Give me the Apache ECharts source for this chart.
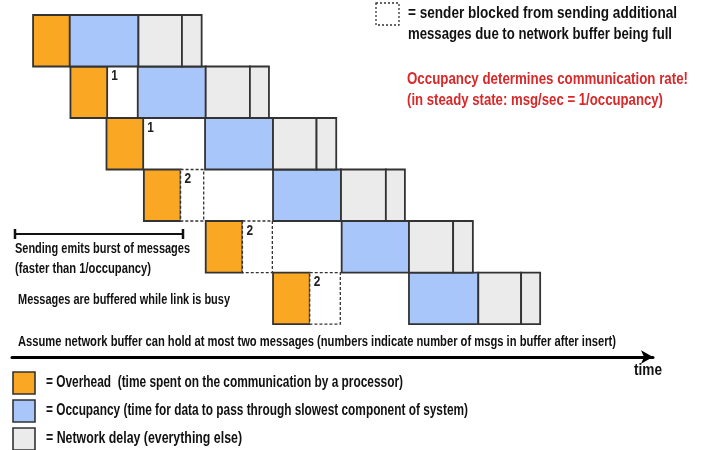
<!DOCTYPE html>
<html>
<head>
<meta charset="utf-8">
<script src="https://cdn.jsdelivr.net/npm/echarts@6/dist/echarts.min.js"></script>
<style>
  html, body { margin: 0; padding: 0; background: #fff; }
  #chart { width: 705px; height: 450px; }
</style>
</head>
<body>
<div id="chart"></div>
<script>
'use strict';

// one row per message, times in arbitrary units (occupancy ~ 10)
var messages = ['msg 1', 'msg 2', 'msg 3', 'msg 4', 'msg 5', 'msg 6'];
var sendStart = [3.1, 8.6, 13.9, 19.4, 28.5, 38.4];
var sendEnd = [8.5, 14.0, 19.3, 24.8, 33.9, 43.8];
var blockedEnd = [null, null, null, 28.2, 38.3, 48.3];
var bufferCount = [null, 1, 1, 2, 2, 2];
var occStart = [8.5, 18.5, 28.4, 38.4, 48.5, 58.4];
var occEnd = [18.6, 28.5, 38.4, 48.4, 58.4, 68.6];
var delaySplit = [25.0, 35.0, 44.8, 55.0, 64.9, 74.9];
var arrive = [27.9, 37.8, 47.7, 57.8, 67.8, 77.7];

var colors = {
    overhead: '#faa823',
    occupancy: '#a8c6fa',
    delay: '#ebebeb',
    border: '#333',
    red: '#d8282a'
};
var font = "'Liberation Sans', Arial, sans-serif";

var measureCtx = document.createElement('canvas').getContext('2d');

function rows(startArr, endArr) {
    var out = [];
    messages.forEach(function (m, i) {
        if (startArr[i] != null && endArr[i] != null) {
            out.push([i, startArr[i], endArr[i]]);
        }
    });
    return out;
}

function segment(fill, dash, width) {
    return function (params, api) {
        var p0 = api.coord([api.value(1), api.value(0)]);
        var p1 = api.coord([api.value(2), api.value(0) + 1]);
        return {
            type: 'rect',
            shape: { x: p0[0], y: p0[1], width: p1[0] - p0[0], height: p1[1] - p0[1] },
            style: { fill: fill, stroke: colors.border, lineWidth: width || 1.8, lineDash: dash || null }
        };
    };
}

function customSeries(name, data, fill, dash, width) {
    return {
        type: 'custom',
        name: name,
        data: data,
        encode: { x: [1, 2], y: 0 },
        renderItem: segment(fill, dash, width),
        silent: true
    };
}

// condensed bold text: squeeze it horizontally so it spans x..xEnd
function txt(x, xEnd, y, text, size, color) {
    var f = 'bold ' + size + 'px ' + font;
    measureCtx.font = f;
    var w = measureCtx.measureText(text).width;
    return {
        type: 'text', x: x, y: y, scaleX: (xEnd - x) / w,
        style: { text: text, font: f, fill: color || '#111', verticalAlign: 'middle' }
    };
}

var chart = echarts.init(document.getElementById('chart'));

chart.setOption({
    animation: false,
    grid: { left: 12, right: 52, top: 15, bottom: 93 },
    xAxis: {
        type: 'value', min: 0, max: 94.3,
        axisLine: { show: true, onZero: false, symbol: ['none', 'arrow'], symbolSize: [10, 12], lineStyle: { color: '#000', width: 3 } },
        axisTick: { show: false }, axisLabel: { show: false }, splitLine: { show: false }
    },
    yAxis: { type: 'value', min: 0, max: 6.64, inverse: true, show: false },
    series: [
        customSeries('Overhead', rows(sendStart, sendEnd), colors.overhead),
        customSeries('Blocked', rows(sendEnd, blockedEnd), '#fff', [3, 2], 1.3),
        customSeries('Occupancy', rows(occStart, occEnd), colors.occupancy),
        customSeries('Network delay', rows(occEnd, delaySplit), colors.delay),
        customSeries('Network delay tail', rows(delaySplit, arrive), colors.delay),
        {
            type: 'custom',
            name: 'Buffer',
            data: rows(sendEnd, bufferCount),
            encode: { x: 1, y: 0 },
            silent: true,
            renderItem: function (params, api) {
                var p = api.coord([api.value(1), api.value(0)]);
                return {
                    type: 'text', x: p[0] + 4, y: p[1] + 3, scaleX: 0.85,
                    style: { text: String(api.value(2)), font: 'bold 14px ' + font, fill: '#222' }
                };
            }
        }
    ],
    graphic: [
        { type: 'rect', shape: { x: 376, y: 3, width: 23, height: 22 }, style: { fill: '#fff', stroke: '#333', lineWidth: 1.3, lineDash: [2, 2] } },
        txt(408, 677, 13, '= sender blocked from sending additional', 17),
        txt(408, 672, 34, 'messages due to network buffer being full', 17),
        txt(407, 688, 79, 'Occupancy determines communication rate!', 17, colors.red),
        txt(407, 663, 100, '(in steady state: msg/sec = 1/occupancy)', 17, colors.red),
        { type: 'polyline', shape: { points: [[15, 234], [183, 234]] }, style: { stroke: '#111', lineWidth: 2 } },
        { type: 'polyline', shape: { points: [[15, 229], [15, 239]] }, style: { stroke: '#111', lineWidth: 2.5 } },
        { type: 'polyline', shape: { points: [[183, 229], [183, 239]] }, style: { stroke: '#111', lineWidth: 2.5 } },
        txt(15, 190, 249, 'Sending emits burst of messages', 15),
        txt(15, 151, 269, '(faster than 1/occupancy)', 15),
        txt(18, 230, 300, 'Messages are buffered while link is busy', 15),
        txt(18, 616, 342, 'Assume network buffer can hold at most two messages (numbers indicate number of msgs in buffer after insert)', 14.5),
        txt(634, 662, 371, 'time', 16),
        { type: 'rect', shape: { x: 13, y: 372, width: 22, height: 22 }, style: { fill: colors.overhead, stroke: colors.border, lineWidth: 1.6 } },
        { type: 'rect', shape: { x: 13, y: 400, width: 22, height: 22 }, style: { fill: colors.occupancy, stroke: colors.border, lineWidth: 1.6 } },
        { type: 'rect', shape: { x: 13, y: 428, width: 22, height: 22 }, style: { fill: colors.delay, stroke: colors.border, lineWidth: 1.6 } },
        txt(46, 403, 383, '= Overhead  (time spent on the communication by a processor)', 16),
        txt(46, 468, 411, '= Occupancy (time for data to pass through slowest component of system)', 16),
        txt(46, 242, 439, '= Network delay (everything else)', 16)
    ]
});
</script>
</body>
</html>
